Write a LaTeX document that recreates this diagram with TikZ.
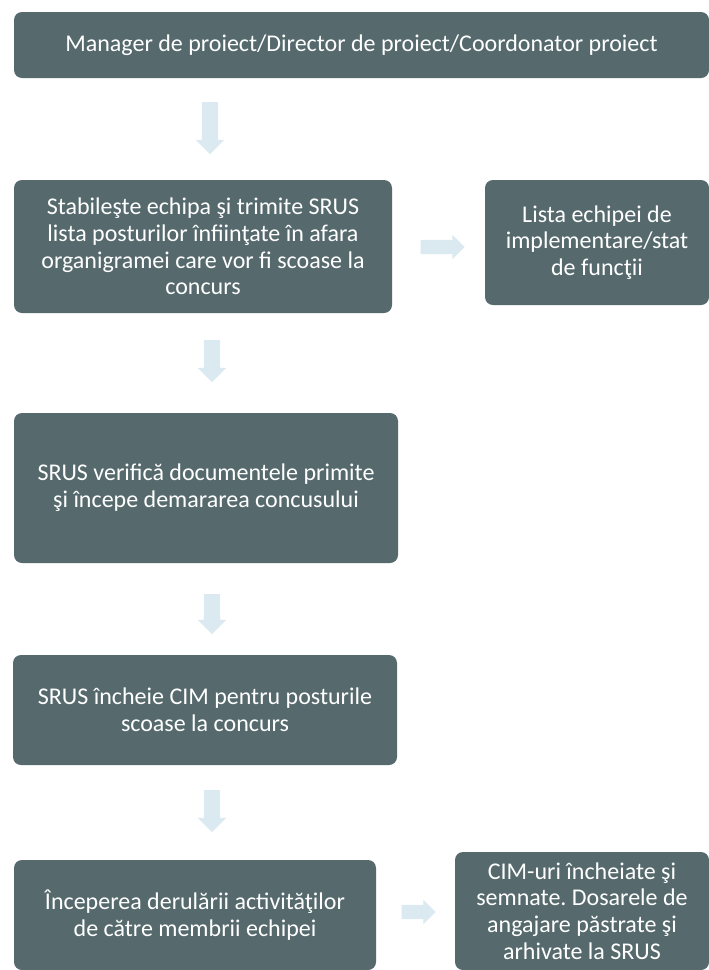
\documentclass[tikz,border=0pt]{standalone}
\usepackage{fontspec}
\setmainfont{Carlito}
\usetikzlibrary{shapes.arrows}
\definecolor{boxfill}{RGB}{86,106,110}
\definecolor{arrowfill}{RGB}{218,234,240}
\begin{document}
\frenchspacing
\begin{tikzpicture}[x=1pt,y=-1pt,
  box/.style={fill=boxfill, rounded corners=8pt, text=white, align=center,
    font=\fontsize{24}{26.8}\selectfont, inner sep=0pt},
  downarr/.style={single arrow, fill=arrowfill, draw=none, shape border rotate=270,
    inner sep=8pt, single arrow head extend=6pt},
  rightarr/.style={single arrow, fill=arrowfill, draw=none, shape border rotate=0,
    inner sep=7pt, single arrow head extend=5pt}]
\useasboundingbox (0,0) rectangle (709,970);
\fill[white] (0,0) rectangle (709,970);

\node[box, minimum width=695pt, minimum height=66pt] (top) at (361.5,45)
  {Manager de proiect/Director de proiect/Coordonator proiect};
\node[box, minimum width=378pt, minimum height=133pt] (b2) at (203,246.5)
  {Stabileşte echipa şi trimite SRUS\\lista posturilor înfiinţate în afara\\organigramei care vor fi scoase la\\concurs};
\node[box, minimum width=224pt, minimum height=125pt] (b3) at (597,242.5)
  {Lista echipei de\\implementare/stat\\de funcţii};
\node[box, minimum width=384pt, minimum height=150pt] (b4) at (206,488)
  {SRUS verifică documentele primite\\şi începe demararea concusului};
\node[box, minimum width=384pt, minimum height=110pt] (b5) at (205,710)
  {SRUS încheie CIM pentru posturile\\scoase la concurs};
\node[box, minimum width=362pt, minimum height=110pt] (b6) at (195,915)
  {Începerea derulării activităţilor\\de către membrii echipei};
\node[box, minimum width=254pt, minimum height=118pt] (b7) at (582,911)
  {CIM-uri încheiate şi\\semnate. Dosarele de\\angajare păstrate şi\\arhivate la SRUS};

\node[downarr, minimum height=52pt] (a1) at (210,124) {};
\node[downarr, minimum height=42pt] (a2) at (212,357) {};
\node[downarr, minimum height=40pt] (a3) at (212,610) {};
\node[downarr, minimum height=42pt] (a4) at (212,807) {};
\node[rightarr, minimum height=44pt] (r1) at (439,247) {};
\node[rightarr, minimum height=34pt] (r2) at (415,912) {};
\end{tikzpicture}
\end{document}
